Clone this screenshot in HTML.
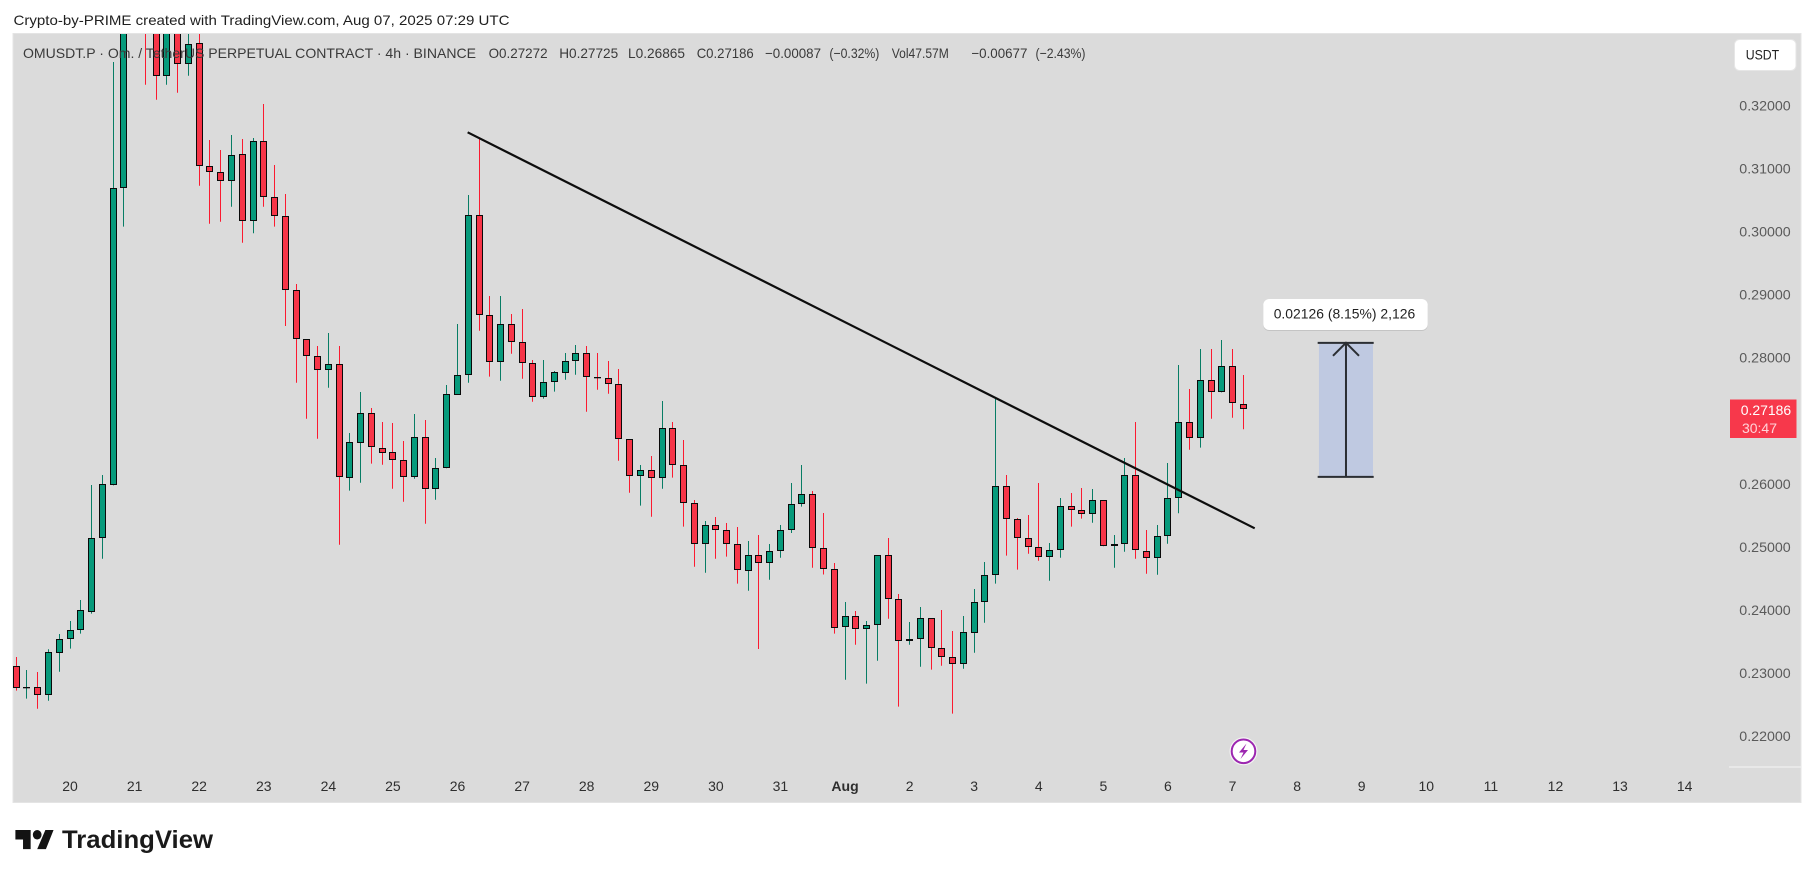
<!DOCTYPE html>
<html lang="en">
<head>
<meta charset="utf-8">
<title>OMUSDT.P 4h chart</title>
<style>
html,body{margin:0;padding:0;background:#fff;width:1814px;height:878px;overflow:hidden}
svg{display:block;font-family:"Liberation Sans",sans-serif}
</style>
</head>
<body>
<svg id="chart" xmlns="http://www.w3.org/2000/svg" width="1814" height="878" viewBox="0 0 1814 878">
  <defs><clipPath id="plot-clip"><rect x="13" y="34" width="1716" height="768"/></clipPath></defs>
  <rect x="0" y="0" width="1814" height="878" fill="#ffffff"/>
  <text x="13.5" y="25" font-size="14" fill="#1f1f1f" textLength="496" lengthAdjust="spacingAndGlyphs">Crypto-by-PRIME created with TradingView.com, Aug 07, 2025 07:29 UTC</text>
  <rect x="13" y="33.5" width="1788" height="769" fill="#dbdbdb" stroke="#e4e4e4" stroke-width="1"/>
  <line x1="1729" y1="767" x2="1801" y2="767" stroke="#f4f4f4" stroke-width="1"/>
  <g id="candles" clip-path="url(#plot-clip)"></g>
  <g id="drawings"></g>
  <g id="y-axis"></g>
  <g id="x-axis"></g>

  <g font-size="14" fill="#3a3a3a">
    <text x="23" y="58" textLength="453" lengthAdjust="spacingAndGlyphs">OMUSDT.P · Om. / TetherUS PERPETUAL CONTRACT · 4h · BINANCE</text>
    <text x="488.6" y="58" textLength="59" lengthAdjust="spacingAndGlyphs">O0.27272</text>
    <text x="559.2" y="58" textLength="59" lengthAdjust="spacingAndGlyphs">H0.27725</text>
    <text x="628" y="58" textLength="57" lengthAdjust="spacingAndGlyphs">L0.26865</text>
    <text x="696.7" y="58" textLength="57" lengthAdjust="spacingAndGlyphs">C0.27186</text>
    <text x="765" y="58" textLength="56" lengthAdjust="spacingAndGlyphs">−0.00087</text>
    <text x="829.4" y="58" textLength="50" lengthAdjust="spacingAndGlyphs">(−0.32%)</text>
    <text x="891.8" y="58" textLength="57" lengthAdjust="spacingAndGlyphs">Vol47.57M</text>
    <text x="971.4" y="58" textLength="56" lengthAdjust="spacingAndGlyphs">−0.00677</text>
    <text x="1035.5" y="58" textLength="50" lengthAdjust="spacingAndGlyphs">(−2.43%)</text>
  </g>

  <g>
    <rect x="1734.5" y="39.5" width="61.5" height="31" rx="5" fill="#ffffff" stroke="#e6e6e6"/>
    <text x="1745.7" y="59.5" font-size="14" fill="#222222" textLength="33.5" lengthAdjust="spacingAndGlyphs">USDT</text>
  </g>

  <g>
    <rect x="1730" y="399.5" width="66.5" height="38.5" fill="#f7384b"/>
    <text x="1740.7" y="415" font-size="14" fill="#ffffff" textLength="50.5" lengthAdjust="spacingAndGlyphs">0.27186</text>
    <text x="1742" y="433" font-size="14" fill="#ffd3d8" textLength="35" lengthAdjust="spacingAndGlyphs">30:47</text>
  </g>

  <g>
    <rect x="1263.3" y="300" width="164.4" height="31" rx="6" fill="#c4c4c4"/>
    <rect x="1263.3" y="299" width="164.4" height="31" rx="6" fill="#ffffff"/>
    <text x="1273.7" y="318.5" font-size="14" fill="#1f1f1f" textLength="141.5" lengthAdjust="spacingAndGlyphs">0.02126 (8.15%) 2,126</text>
  </g>

  <g>
    <circle cx="1243.5" cy="751.3" r="14" fill="#f4f4f4"/>
    <circle cx="1243.5" cy="751.3" r="11.8" fill="#ffffff" stroke="#9c27b0" stroke-width="2"/>
    <path d="M1246.5 743.5 L1239 752.5 L1243.5 752.5 L1240.5 759 L1248 750 L1243.5 750 Z" fill="#9c27b0"/>
  </g>

  <g>
    <g transform="translate(15.4 822.9) scale(1.09 1.19)" fill="#131313">
      <path d="M14 6H0v8h7v8h7V6Zm14 16h-8l7.5-16H35z"/>
      <circle cx="20" cy="10" r="4"/>
    </g>
    <text x="62" y="848" font-size="25" font-weight="700" fill="#1a1a1a" textLength="151" lengthAdjust="spacingAndGlyphs">TradingView</text>
  </g>
</svg>

<script>
const opens = [
0.23105,0.22770,0.22772,0.22655,0.23312,0.23534,0.23676,0.23971,0.25145,0.25976,
0.30687,0.34500,0.34900,0.34000,0.32463,0.34200,0.32653,0.32986,0.31036,0.30940,
0.30798,0.31226,0.30163,0.31432,0.30544,0.30242,0.29069,0.28292,0.28022,0.27800,
0.27895,0.26087,0.26642,0.27118,0.26563,0.26500,0.26373,0.26103,0.26737,0.25913,
0.26246,0.27415,0.27721,0.30258,0.28672,0.27927,0.28530,0.28244,0.27911,0.27372,
0.27610,0.27755,0.27943,0.28070,0.27689,0.27673,0.27578,0.26706,0.26119,0.26214,
0.26087,0.26880,0.26293,0.25691,0.25040,0.25342,0.25272,0.25040,0.24612,0.24866,
0.24739,0.24929,0.25262,0.25675,0.25833,0.24977,0.24644,0.23724,0.23898,0.23692,
0.23756,0.24866,0.24168,0.23502,0.23534,0.23867,0.23391,0.23248,0.23137,0.23629,
0.24121,0.24549,0.25960,0.25437,0.25136,0.24993,0.24834,0.24945,0.25643,0.25580,
0.25516,0.25738,0.25009,0.25040,0.26135,0.24929,0.24818,0.25167,0.25770,0.26975,
0.26722,0.27641,0.27451,0.27863,0.27272];
const highs = [
0.23253,0.23047,0.23015,0.23375,0.23618,0.23824,0.24157,0.25981,0.26139,0.32690,
0.35000,0.35300,0.35100,0.34300,0.34500,0.34500,0.33800,0.33800,0.31453,0.31294,
0.31532,0.31468,0.31484,0.32024,0.31056,0.30596,0.29169,0.28292,0.28185,0.28392,
0.28185,0.26806,0.27456,0.27202,0.26980,0.26964,0.26679,0.27107,0.27012,0.26409,
0.27567,0.28534,0.30580,0.31480,0.28978,0.28978,0.28693,0.28772,0.27963,0.27963,
0.27789,0.28074,0.28201,0.28185,0.28074,0.27948,0.27821,0.26706,0.26298,0.26441,
0.27313,0.26980,0.26695,0.25743,0.25410,0.25473,0.25378,0.25315,0.25093,0.25188,
0.25045,0.25346,0.26013,0.26298,0.25886,0.25537,0.24744,0.24125,0.23983,0.23824,
0.24866,0.25140,0.24252,0.23808,0.24046,0.23867,0.23998,0.23665,0.23903,0.24331,
0.24760,0.27345,0.26139,0.25458,0.25505,0.26013,0.25061,0.25775,0.25854,0.25933,
0.25917,0.25738,0.25188,0.26409,0.26980,0.25267,0.25346,0.26330,0.27884,0.27503,
0.28138,0.28138,0.28281,0.28138,0.27725];
const lows = [
0.22719,0.22592,0.22433,0.22560,0.23020,0.23385,0.23623,0.23940,0.24812,0.25976,
0.30078,0.34200,0.32330,0.32092,0.32330,0.32203,0.32472,0.30728,0.30125,0.30157,
0.30395,0.29824,0.29973,0.30395,0.30078,0.28503,0.27603,0.27032,0.26715,0.27524,
0.25034,0.25891,0.26017,0.26319,0.26303,0.25922,0.25716,0.26081,0.25367,0.25748,
0.26246,0.27415,0.27603,0.28428,0.27699,0.27635,0.28063,0.27667,0.27302,0.27350,
0.27461,0.27651,0.27730,0.27143,0.27492,0.27429,0.26366,0.25859,0.25653,0.25478,
0.25922,0.26097,0.25320,0.24685,0.24590,0.24812,0.24844,0.24416,0.24304,0.23380,
0.24479,0.24828,0.25220,0.25637,0.24669,0.24561,0.23623,0.22893,0.23448,0.22830,
0.23194,0.23860,0.22465,0.23448,0.23099,0.23052,0.23115,0.22354,0.23067,0.23321,
0.23797,0.24416,0.24860,0.24638,0.24891,0.24780,0.24463,0.24828,0.25320,0.25447,
0.25383,0.25009,0.24669,0.24923,0.24812,0.24574,0.24558,0.25050,0.25532,0.26541,
0.26573,0.27032,0.27451,0.27048,0.26865];
const closes = [
0.22766,0.22775,0.22655,0.23328,0.23534,0.23676,0.23994,0.25136,0.25992,0.30687,
0.34500,0.34900,0.34000,0.32463,0.34200,0.32653,0.32970,0.31036,0.30940,0.30798,
0.31210,0.30163,0.31432,0.30544,0.30242,0.29069,0.28292,0.28022,0.27800,0.27895,
0.26103,0.26658,0.27118,0.26579,0.26493,0.26373,0.26103,0.26737,0.25913,0.26246,
0.27419,0.27721,0.30258,0.28672,0.27927,0.28530,0.28244,0.27911,0.27372,0.27610,
0.27768,0.27943,0.28070,0.27689,0.27685,0.27578,0.26706,0.26119,0.26214,0.26087,
0.26880,0.26293,0.25691,0.25040,0.25342,0.25272,0.25040,0.24628,0.24866,0.24739,
0.24929,0.25262,0.25675,0.25833,0.24977,0.24644,0.23708,0.23898,0.23692,0.23756,
0.24866,0.24168,0.23502,0.23534,0.23867,0.23391,0.23248,0.23137,0.23645,0.24121,
0.24549,0.25960,0.25437,0.25136,0.24993,0.24834,0.24945,0.25643,0.25580,0.25516,
0.25738,0.25009,0.25040,0.26135,0.24945,0.24818,0.25167,0.25770,0.26975,0.26722,
0.27641,0.27451,0.27863,0.27277,0.27186];

const priceTicks = [0.32, 0.31, 0.30, 0.29, 0.28, 0.26, 0.25, 0.24, 0.23, 0.22];
const dayLabels = ["20","21","22","23","24","25","26","27","28","29","30","31","Aug","2","3","4","5","6","7","8","9","10","11","12","13","14"];
const trendIndex = [41.94, 115.06];
const trendPrice = [0.31575, 0.25294];
const measureIndex = [121.03, 126.05];
const measurePrice = [0.26110, 0.28236];

const NS = "http://www.w3.org/2000/svg";
function xAt(i) { return 16.2 + 10.764 * i; }
function yAt(p) { return 105.5 + (0.32 - p) * 6305; }
function make(tag, attrs) {
  const el = document.createElementNS(NS, tag);
  for (const k in attrs) el.setAttribute(k, attrs[k]);
  return el;
}

const candleGroup = document.getElementById("candles");
opens.forEach(function (o, i) {
  const c = closes[i], up = c >= o;
  const xc = Math.round(xAt(i) - 0.5) + 0.5;
  const top = Math.round(yAt(Math.max(o, c))), bot = Math.round(yAt(Math.min(o, c)));
  const g = make("g", {});
  
  
  const wick = make("line", { x1: xc, x2: xc, y1: yAt(highs[i]), y2: yAt(lows[i]), stroke: up ? "#087d65" : "#fb1a30", "stroke-width": 1 });
  
  
  g.appendChild(wick);
  const h = Math.max(bot - top - 1, 0.3);
  const body = make("rect", { x: xc - 3, y: top + 0.5, width: 6, height: h, fill: up ? "#079a7b" : "#f73548", stroke: "#0a0a0a", "stroke-width": 1 });
  
  
  g.appendChild(body);
  candleGroup.appendChild(g);
});

const drawings = document.getElementById("drawings");
const trend = make("line", { x1: xAt(trendIndex[0]), y1: yAt(trendPrice[0]), x2: xAt(trendIndex[1]), y2: yAt(trendPrice[1]), stroke: "#0d0d0d", "stroke-width": 2.2 });


drawings.appendChild(trend);

const mx0 = xAt(measureIndex[0]), mx1 = xAt(measureIndex[1]);
const myTop = yAt(measurePrice[1]), myBot = yAt(measurePrice[0]);
const mxMid = (mx0 + mx1) / 2;
const mRect = make("rect", { x: mx0, y: myTop, width: mx1 - mx0, height: myBot - myTop, fill: "#bfc9e1" });


drawings.appendChild(mRect);
const mTop = make("line", { x1: mx0 - 1.3, x2: mx1 + 0.7, y1: myTop, y2: myTop, stroke: "#2b2e33", "stroke-width": 2 });


drawings.appendChild(mTop);
const mBot = make("line", { x1: mx0 - 1.3, x2: mx1 + 0.7, y1: myBot, y2: myBot, stroke: "#2b2e33", "stroke-width": 2 });


drawings.appendChild(mBot);
const mArrow = make("line", { x1: mxMid, x2: mxMid, y1: myBot, y2: myTop, stroke: "#2b2e33", "stroke-width": 2 });


drawings.appendChild(mArrow);
const mHead = make("polyline", { points: (mxMid - 13) + "," + (myTop + 13) + " " + mxMid + "," + myTop + " " + (mxMid + 13) + "," + (myTop + 13), fill: "none", stroke: "#2b2e33", "stroke-width": 2 });


drawings.appendChild(mHead);

const yAxis = document.getElementById("y-axis");
priceTicks.forEach(function (p) {
  const t = make("text", { x: 1739.3, y: yAt(p) + 5, "font-size": 14, fill: "#5a5a5a", textLength: 51.4, lengthAdjust: "spacingAndGlyphs" });
  
  
  t.textContent = p.toFixed(5);
  yAxis.appendChild(t);
});

const xAxis = document.getElementById("x-axis");
dayLabels.forEach(function (label, d) {
  const t = make("text", { x: xAt(5 + 6 * d), y: 790.8, "font-size": 14, fill: "#2e2e2e", "text-anchor": "middle" });
  if (label === "Aug") t.setAttribute("font-weight", "700");
  
  
  t.textContent = label;
  xAxis.appendChild(t);
});
</script>
</body>
</html>
